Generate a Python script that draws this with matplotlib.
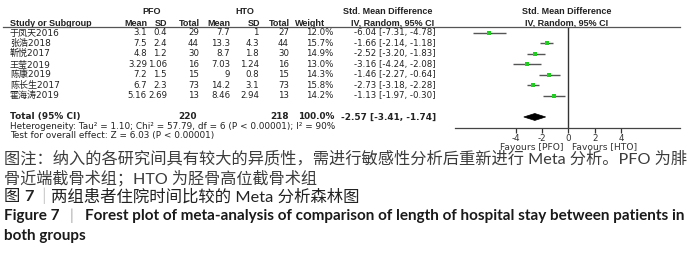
import matplotlib
matplotlib.use('Agg')
import matplotlib.pyplot as plt
from matplotlib.transforms import blended_transform_factory
from matplotlib.lines import Line2D
from matplotlib.patches import Polygon
import numpy as np

plt.rcParams['axes.unicode_minus'] = False

# ---------------- data ----------------
studies = ['于凤天2016', '张浩2018', '靳悦2017', '王莹2019', '陈康2019', '陈长生2017', '霍海涛2019']
pfo_mean = ['3.1', '7.5', '4.8', '3.29', '7.2', '6.7', '5.16']
pfo_sd = ['0.4', '2.4', '1.2', '1.06', '1.5', '2.3', '2.69']
pfo_n = [29, 44, 30, 16, 15, 73, 13]
hto_mean = ['7.7', '13.3', '8.7', '7.03', '9', '14.2', '8.46']
hto_sd = ['1', '4.3', '1.8', '1.24', '0.8', '3.1', '2.94']
hto_n = [27, 44, 30, 16, 15, 73, 13]
weight = [12.0, 15.7, 14.9, 13.0, 14.3, 15.8, 14.2]
smd = [-6.04, -1.66, -2.52, -3.16, -1.46, -2.73, -1.13]
ci_lo = [-7.31, -2.14, -3.20, -4.24, -2.27, -3.18, -1.97]
ci_hi = [-4.78, -1.18, -1.83, -2.08, -0.64, -2.28, -0.30]
total_pfo = 220
total_hto = 218
total_weight = 100.0
total_smd = -2.57
total_lo = -3.41
total_hi = -1.74
xticks = [-4, -2, 0, 2, 4]
heterogeneity = 'Heterogeneity: Tau² = 1.10; Chi² = 57.79, df = 6 (P < 0.00001); I² = 90%'
overall = 'Test for overall effect: Z = 6.03 (P < 0.00001)'

caption1 = '图注：纳入的各研究间具有较大的异质性，需进行敏感性分析后重新进行 Meta 分析。PFO 为腓'
caption2 = '骨近端截骨术组；HTO 为胫骨高位截骨术组'
title_cn = '两组患者住院时间比较的 Meta 分析森林图'
title_en1 = 'Forest plot of meta-analysis of comparison of length of hospital stay between patients in'
title_en2 = 'both groups'

# ---------------- layout helpers ----------------
W, H = 700, 274
def fx(px):
    return px / W
def fy(py):
    return 1 - py / H

fig = plt.figure(figsize=(W / 100, H / 100), dpi=100)
fig.patch.set_facecolor('white')

ax = fig.add_axes([fx(455), fy(128), fx(680) - fx(455), fy(27) - fy(128)])
ax.set_xlim(-8.66, 8.51)
ax.set_ylim(9.05, -0.57)
for s in ['top', 'left', 'right']:
    ax.spines[s].set_visible(False)
ax.spines['bottom'].set_color('#444444')
ax.spines['bottom'].set_linewidth(0.9)
ax.set_yticks([])
ax.set_xticks(xticks)
ax.set_xticklabels([str(t) for t in xticks])
ax.tick_params(axis='x', direction='out', length=3.5, width=0.9, color='#333333',
               labelsize=6.3, pad=1, labelcolor='#333333')
for lab in ax.get_xticklabels():
    lab.set_family('DejaVu Sans')
ax.patch.set_alpha(0)

rows = np.arange(len(studies))
total_row = len(studies) + 1

# CI lines and squares
for i in rows:
    ax.plot([ci_lo[i], ci_hi[i]], [i, i], color='#555555', lw=1.0, solid_capstyle='butt', zorder=2)
    ax.plot(smd[i], i, marker='s', color='#22cc22', ms=weight[i] / 5.0, mew=0, zorder=3)

# diamond
dh = 0.33
ax.add_patch(Polygon([[total_lo, total_row], [total_smd, total_row - dh],
                      [total_hi, total_row], [total_smd, total_row + dh]],
                     closed=True, facecolor='black', edgecolor='black', lw=0.5, zorder=3))
ax.axvline(0, color='#333333', lw=1.0, zorder=1)

# header separator line across table
fig.add_artist(Line2D([fx(3), fx(680)], [fy(27), fy(27)], color='#555555', lw=0.9))

tr = blended_transform_factory(fig.transFigure, ax.transData)
tc = '#222222'
base = dict(transform=tr, fontsize=6.2, color=tc, va='center',
            family=['DejaVu Sans', 'Noto Sans CJK SC'], clip_on=False)
names = dict(base, fontsize=6.5)
foot = dict(base, fontsize=6.4)
head = dict(transform=tr, fontsize=6.5, color=tc, va='center', fontweight='bold',
            family=['Liberation Sans', 'Noto Sans CJK SC'], clip_on=False)
bold = dict(base, fontweight='bold', fontsize=6.4)

# headers
ax.text(fx(152), -2.0, 'PFO', ha='center', **head)
ax.text(fx(245), -2.0, 'HTO', ha='center', **head)
ax.text(fx(388), -2.0, 'Std. Mean Difference', ha='center', **head)
ax.text(fx(567), -2.0, 'Std. Mean Difference', ha='center', **head)
yh = -0.95
ax.text(fx(10), yh, 'Study or Subgroup', ha='left', **head)
ax.text(fx(147), yh, 'Mean', ha='right', **head)
ax.text(fx(167), yh, 'SD', ha='right', **head)
ax.text(fx(200), yh, 'Total', ha='right', **head)
ax.text(fx(230), yh, 'Mean', ha='right', **head)
ax.text(fx(260), yh, 'SD', ha='right', **head)
ax.text(fx(290), yh, 'Total', ha='right', **head)
ax.text(fx(325), yh, 'Weight', ha='right', **head)
ax.text(fx(393), yh, 'IV, Random, 95% CI', ha='center', **head)
ax.text(fx(567), yh, 'IV, Random, 95% CI', ha='center', **head)

# rows
for i in rows:
    ax.text(fx(10), i, studies[i], ha='left', **names)
    ax.text(fx(147), i, pfo_mean[i], ha='right', **base)
    ax.text(fx(167), i, pfo_sd[i], ha='right', **base)
    ax.text(fx(199), i, str(pfo_n[i]), ha='right', **base)
    ax.text(fx(230), i, hto_mean[i], ha='right', **base)
    ax.text(fx(259), i, hto_sd[i], ha='right', **base)
    ax.text(fx(289), i, str(hto_n[i]), ha='right', **base)
    ax.text(fx(333), i, f'{weight[i]:.1f}%', ha='right', **base)
    ax.text(fx(436), i, f'{smd[i]:.2f} [{ci_lo[i]:.2f}, {ci_hi[i]:.2f}]', ha='right', **base)

ax.text(fx(10), total_row, 'Total (95% CI)', ha='left', **bold)
ax.text(fx(197), total_row, str(total_pfo), ha='right', **bold)
ax.text(fx(289), total_row, str(total_hto), ha='right', **bold)
ax.text(fx(334), total_row, f'{total_weight:.1f}%', ha='right', **bold)
ax.text(fx(436), total_row, f'{total_smd:.2f} [{total_lo:.2f}, {total_hi:.2f}]', ha='right', **bold)
ax.text(fx(10), 8.95, heterogeneity, ha='left', **foot)
ax.text(fx(10), 9.8, overall, ha='left', **foot)

fig.text(fx(563), fy(147), 'Favours [PFO]', ha='right', va='center', fontsize=6.6, color='#333333', family='DejaVu Sans')
fig.text(fx(572), fy(147), 'Favours [HTO]', ha='left', va='center', fontsize=6.6, color='#333333', family='DejaVu Sans')

# ---------------- captions ----------------
cap_font = ['Lato', 'Noto Sans CJK SC']
cc = '#3c3c3c'
fig.text(fx(4), fy(159), caption1, ha='left', va='center', fontsize=11.7, color=cc, family=cap_font)
fig.text(fx(4), fy(178), caption2, ha='left', va='center', fontsize=11.6, color=cc, family=cap_font)

fig.canvas.draw()
renderer = fig.canvas.get_renderer()

def chain(pieces, x0, y, **kw):
    x = x0
    for txt, gap, extra in pieces:
        x += gap
        t = fig.text(fx(x), fy(y), txt, ha='left', va='center', **dict(kw, **extra))
        bb = t.get_window_extent(renderer)
        x = bb.x1

chain([('图 ', 0, {}), ('7', 0, {'fontweight': 'bold'}), ('｜', 1, {'color': '#aaaaaa'}),
       (title_cn, 0, {})], 4, 197, fontsize=11.8, color='#222222', family=cap_font)
chain([('Figure 7', 0, {'fontweight': 'bold'}), ('|', 10, {'color': '#aaaaaa'}),
       (title_en1, 12, {'fontweight': 'bold'})], 4, 216, fontsize=11.0, color='#1a1a1a', family=cap_font)
fig.text(fx(4), fy(236), title_en2, ha='left', va='center', fontsize=11.0, color='#1a1a1a',
         family=cap_font, fontweight='bold')

fig.savefig('out.png', dpi=100)
